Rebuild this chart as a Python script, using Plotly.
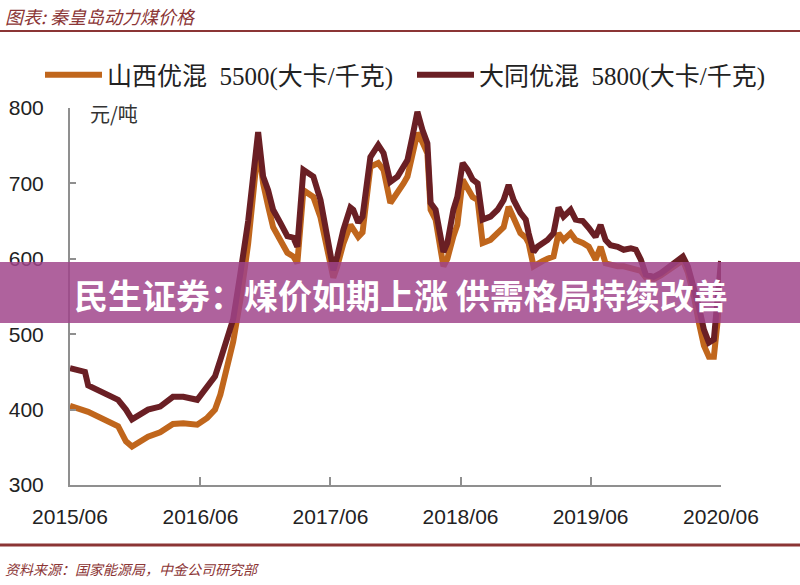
import plotly.graph_objects as go

# ---- data ----
dates = [
    "2015-06-01", "2015-07-13", "2015-07-22", "2015-10-14", "2015-11-05", "2015-11-22",
    "2016-01-06", "2016-02-09", "2016-03-16", "2016-04-14", "2016-05-23", "2016-06-20",
    "2016-07-12", "2016-07-27", "2016-08-15", "2016-09-01", "2016-09-21", "2016-10-13",
    "2016-11-10", "2016-11-24", "2016-12-08", "2016-12-22", "2017-01-11", "2017-01-31",
    "2017-02-17", "2017-02-28", "2017-03-17", "2017-04-14", "2017-05-04", "2017-05-23",
    "2017-06-09", "2017-06-20", "2017-07-07", "2017-07-27", "2017-08-04", "2017-08-18",
    "2017-08-30", "2017-09-21", "2017-10-13", "2017-10-28", "2017-11-16", "2017-12-06",
    "2017-12-23", "2018-01-03", "2018-01-17", "2018-01-31", "2018-02-14", "2018-02-28",
    "2018-03-09", "2018-03-23", "2018-04-14", "2018-04-25", "2018-05-12", "2018-05-23",
    "2018-06-07", "2018-06-21", "2018-07-05", "2018-07-19", "2018-08-02", "2018-08-24",
    "2018-09-13", "2018-09-30", "2018-10-14", "2018-10-28", "2018-11-16", "2018-12-01",
    "2018-12-09", "2018-12-23", "2019-01-03", "2019-01-17", "2019-01-31", "2019-02-17",
    "2019-03-03", "2019-03-17", "2019-04-06", "2019-04-20", "2019-05-10", "2019-05-27",
    "2019-06-15", "2019-06-29", "2019-07-13", "2019-07-27", "2019-08-16", "2019-09-02",
    "2019-09-22", "2019-10-06", "2019-10-20", "2019-11-03", "2019-11-25", "2019-12-15",
    "2020-01-04", "2020-01-20", "2020-02-15", "2020-02-29", "2020-03-17", "2020-03-31",
    "2020-04-14", "2020-04-28", "2020-05-12", "2020-05-22", "2020-06-01",
]

shanxi_5500 = [
    405, 400, 397, 378, 358, 351,
    364, 370, 381, 382, 380, 389,
    400, 420, 455, 490, 545, 620,
    750, 700, 670, 642, 625, 608,
    603, 594, 691, 682, 655, 610,
    575, 590, 620, 645, 640, 629,
    635, 722, 727, 718, 674, 687,
    700, 709, 740, 767, 755, 740,
    665, 652, 590, 600, 630, 645,
    705, 695, 682, 678, 621, 625,
    635, 642, 669, 652, 634, 628,
    621, 590, 594, 597, 600, 603,
    634, 625, 634, 625, 621, 616,
    599, 616, 594, 592, 590, 590,
    588, 586, 584, 575, 573, 578,
    585, 590, 598, 582, 550, 515,
    485, 470, 470, 515, 575,
]

datong_5800 = [
    455, 450, 432, 413, 400, 387,
    400, 404, 417, 417, 413, 430,
    444, 466, 497, 520, 580, 650,
    768, 709, 691, 665, 648, 630,
    628, 616, 718, 709, 678, 625,
    585, 603, 638, 668, 665, 648,
    656, 735, 751, 740, 702, 709,
    722, 731, 762, 795, 771, 753,
    674, 665, 609, 621, 665, 682,
    727, 718, 705, 700, 652, 656,
    665, 678, 698, 678, 661, 652,
    634, 609, 616, 621, 625, 634,
    668, 656, 665, 652, 650, 641,
    629, 645, 625, 618, 616, 612,
    614, 612, 599, 579, 576, 581,
    588, 594, 603, 590, 563, 536,
    506, 489, 493, 540, 597,
]

series_names = ["山西优混  5500(大卡/千克)", "大同优混  5800(大卡/千克)"]
tick_dates = ["2015-06-01", "2016-06-01", "2017-06-01", "2018-06-01", "2019-06-01", "2020-06-01"]
tick_labels = ["2015/06", "2016/06", "2017/06", "2018/06", "2019/06", "2020/06"]
y_ticks = [300, 400, 500, 600, 700, 800]

title_text = "图表: 秦皇岛动力煤价格"
unit_text = "元/吨"
banner_text = "民生证券：煤价如期上涨 供需格局持续改善"
source_text = "资料来源：国家能源局，中金公司研究部"

# ---- layout geometry (pixels) ----
W, H = 800, 585
L, R, T, B = 70, 79, 108, 100
PW, PH = W - L - R, H - T - B


def px_x(p):
    return (p - L) / PW


def px_y(p):
    return 1 - (p - T) / PH


ORANGE = "#C0661C"
MAROON = "#6A1F24"
RED = "#8B3535"
AXIS = "#8f8f8f"
LEG_FONT = dict(family="Liberation Serif, Noto Sans CJK SC", size=25, color="#222")

fig = go.Figure()
fig.add_trace(go.Scatter(x=dates, y=shanxi_5500, mode="lines", name=series_names[0],
                         line=dict(color=ORANGE, width=6), legend="legend"))
fig.add_trace(go.Scatter(x=dates, y=datong_5800, mode="lines", name=series_names[1],
                         line=dict(color=MAROON, width=6), legend="legend2"))

fig.update_layout(
    width=W, height=H,
    margin=dict(l=L, r=R, t=T, b=B, autoexpand=False),
    paper_bgcolor="white", plot_bgcolor="white",
    showlegend=True,
    legend=dict(orientation="h", xref="container", yref="container",
                x=40 / W, y=1 - 75 / H, xanchor="left", yanchor="middle",
                font=LEG_FONT, itemwidth=57, bgcolor="rgba(0,0,0,0)"),
    legend2=dict(orientation="h", xref="container", yref="container",
                 x=412 / W, y=1 - 75 / H, xanchor="left", yanchor="middle",
                 font=LEG_FONT, itemwidth=57, bgcolor="rgba(0,0,0,0)"),
    xaxis=dict(type="date", range=["2015-06-01", "2020-06-01"],
               tickvals=tick_dates, ticktext=tick_labels,
               showline=True, linecolor=AXIS, linewidth=2,
               ticks="inside", ticklen=8, tickwidth=2, tickcolor=AXIS,
               showgrid=False, zeroline=False, ticklabelstandoff=12,
               tickfont=dict(family="Liberation Sans", size=21, color="#222")),
    yaxis=dict(range=[300, 800], tickvals=y_ticks,
               showline=True, linecolor=AXIS, linewidth=2,
               ticks="inside", ticklen=6, tickwidth=2, tickcolor=AXIS,
               showgrid=False, zeroline=False, ticklabelstandoff=20,
               tickfont=dict(family="Liberation Sans", size=21, color="#222")),
)

shapes = [
    # title underline
    dict(type="line", xref="paper", yref="paper", x0=px_x(0), x1=px_x(W),
         y0=px_y(31), y1=px_y(31), line=dict(color=RED, width=2)),
    # bottom rule
    dict(type="line", xref="paper", yref="paper", x0=px_x(0), x1=px_x(W),
         y0=px_y(545), y1=px_y(545), line=dict(color=RED, width=3)),
    # banner
    dict(type="rect", xref="paper", yref="paper", x0=px_x(0), x1=px_x(W),
         y0=px_y(323), y1=px_y(262), line=dict(width=0),
         fillcolor="rgba(160,68,138,0.84)", layer="above"),
]
fig.update_layout(shapes=shapes)

annotations = [
    dict(text="<i>" + title_text + "</i>", xref="paper", yref="paper", x=px_x(3), y=px_y(16),
         xanchor="left", yanchor="middle", showarrow=False,
         font=dict(family="Noto Sans CJK SC", size=18, color=RED)),
    dict(text=unit_text, xref="paper", yref="paper", x=px_x(88), y=px_y(114),
         xanchor="left", yanchor="middle", showarrow=False,
         font=dict(family="Noto Sans CJK SC", size=20, color="#333")),
    dict(text="<b>" + banner_text + "</b>", xref="paper", yref="paper", x=px_x(401), y=px_y(294),
         xanchor="center", yanchor="middle", showarrow=False,
         font=dict(family="Noto Sans CJK SC", size=34, color="white")),
    dict(text="<i>" + source_text + "</i>", xref="paper", yref="paper", x=px_x(3), y=px_y(569),
         xanchor="left", yanchor="middle", showarrow=False,
         font=dict(family="Noto Sans CJK SC", size=14, color=RED)),
]
fig.update_layout(annotations=annotations)

fig.write_html("out.html", config={"displayModeBar": False},
               post_script="document.body.style.margin='0';")
